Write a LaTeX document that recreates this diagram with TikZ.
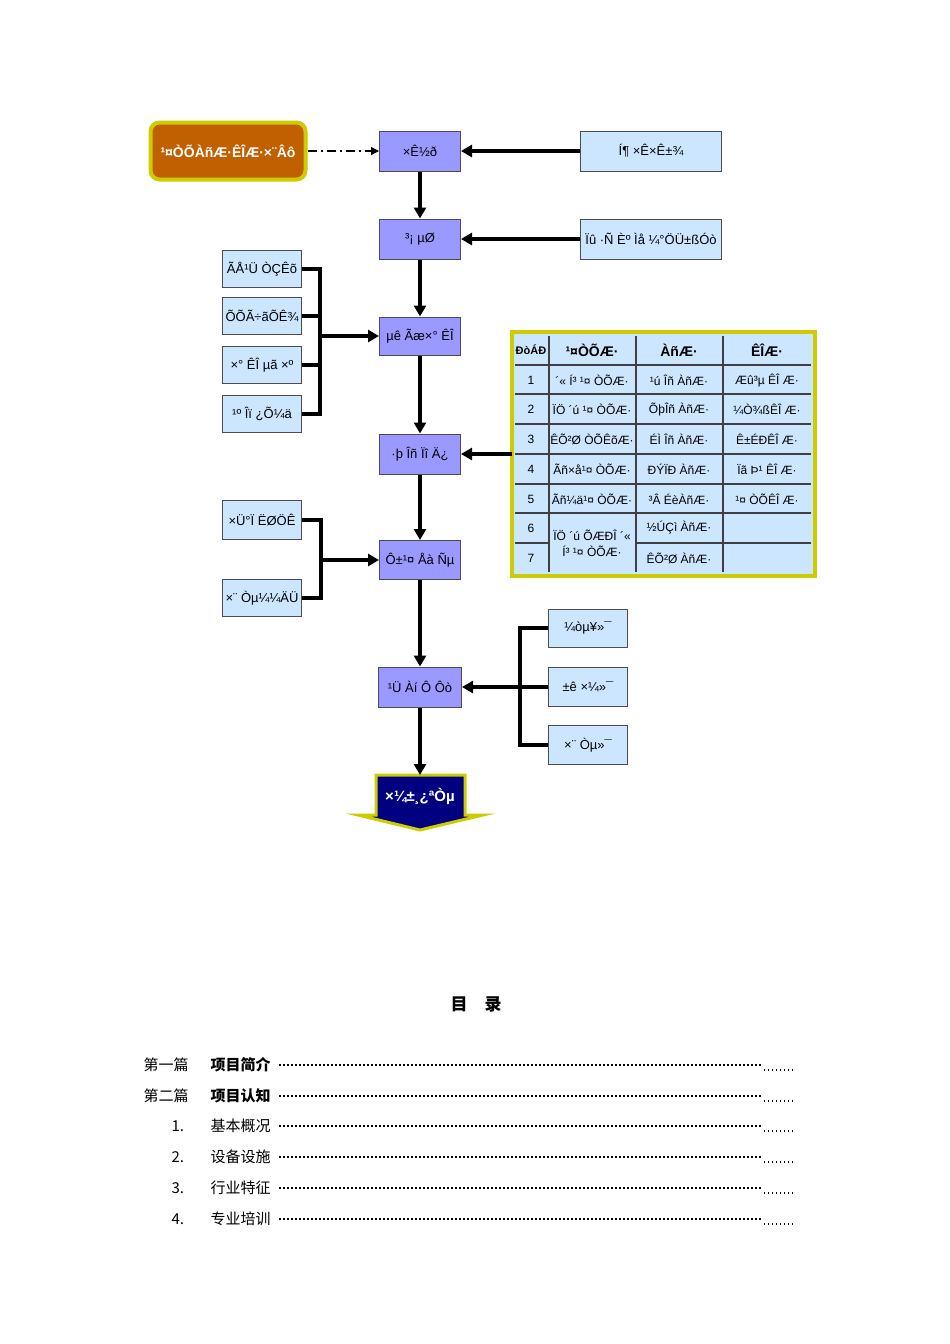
\documentclass[tikz,border=0pt]{standalone}
\usepackage{fontspec}
\setmainfont{Liberation Sans}
\newfontfamily\cjk{Noto Sans CJK SC}
\usetikzlibrary{arrows.meta,calc}
\definecolor{mainv}{RGB}{153,153,255}
\definecolor{lightb}{RGB}{204,230,255}
\definecolor{orng}{RGB}{192,96,0}
\definecolor{ylw}{RGB}{204,204,0}
\definecolor{navy}{RGB}{0,0,128}
\begin{document}
\begin{tikzpicture}[x=1pt,y=-1pt,
  mainb/.style={draw=black!70,line width=1pt,fill=mainv,minimum width=81pt,minimum height=40pt,inner sep=1pt,font=\fontsize{13}{14}\selectfont},
  sideb/.style={draw=black!70,line width=1pt,fill=lightb,minimum width=79pt,minimum height=37pt,inner sep=1pt,font=\fontsize{13}{14}\selectfont},
  conn/.style={line width=3.5pt,-{Triangle[length=11pt,width=12pt]}},
  line/.style={line width=3.5pt},
  cell/.style={font=\fontsize{12}{13}\selectfont},
  toc/.style={anchor=west,font=\cjk\fontsize{15}{17}\selectfont}]
\useasboundingbox (0,0) rectangle (950,1344);
% start node
\node[draw=ylw,line width=4pt,fill=orng,rounded corners=9pt,minimum width=155pt,minimum height=57pt,text=white,font=\bfseries\fontsize{14}{15}\selectfont] (start) at (228,151) {¹¤ÒÕÀñÆ·ÊÎÆ·×¨Âô};
\node[mainb] (m1) at (420,151) {×Ê½ð};
\node[mainb] (m2) at (420,239) {³¡ µØ};
\node[mainb,minimum height=38pt] (m3) at (420,336) {µê Ãæ×° ÊÎ};
\node[mainb] (m4) at (420,454) {·þ Îñ Ïî Ä¿};
\node[mainb,minimum height=39pt] (m5) at (420,560) {Ô±¹¤ Åà Ñµ};
\node[mainb,minimum width=83pt] (m6) at (420,687) {¹Ü Àí Ô Ôò};
\node[sideb,minimum width=141pt,minimum height=40pt] (r1) at (651,151) {Í¶ ×Ê×Ê±¾};
\node[sideb,minimum width=141pt,minimum height=40pt] (r2) at (651,239) {Ïû ·Ñ Èº Ìå ¼°ÖÜ±ßÓò};
\node[sideb] (l1) at (262,269) {ÃÅ¹Ü ÒÇÊõ};
\node[sideb] (l2) at (262,316) {ÕÕÃ÷ãÕÊ¾};
\node[sideb] (l3) at (262,365) {×° ÊÎ µã ×º};
\node[sideb] (l4) at (262,414) {¹º Îï ¿Õ¼ä};
\node[sideb,minimum height=39pt] (l5) at (262,520) {×Ü°Ï ËØÖÊ};
\node[sideb] (l6) at (262,598) {×¨ Òµ¼¼ÄÜ};
\node[sideb,minimum height=38pt] (s1) at (588,628) {¼òµ¥»¯};
\node[sideb,minimum height=39pt] (s2) at (588,687) {±ê ×¼»¯};
\node[sideb,minimum height=39pt] (s3) at (588,745) {×¨ Òµ»¯};
% end arrow shape
\draw[draw=ylw,line width=3pt,fill=navy] (376,775) -- (465,775) -- (465,815) -- (483,815) -- (420,830) -- (358,815) -- (376,815) -- cycle;
\node[text=white,font=\bfseries\fontsize{15}{16}\selectfont] (end) at (420,796) {×¼±¸¿ªÒµ};
\coordinate (endtop) at (420,775);
% table
\fill[lightb] (512,332) rectangle (815,576);
\draw[ylw,line width=4pt] (512,332) rectangle (815,576);
\foreach \x in {549,636,723} \draw[black!75,line width=1.8pt] (\x,336) -- (\x,572);
\foreach \y in {365,394,424,454,484,513} \draw[black!75,line width=1.8pt] (515,\y) -- (811,\y);
\draw[black!75,line width=1.8pt] (515,543) -- (549,543) (636,543) -- (811,543);
\coordinate (tab) at (512,454);
\begin{scope}[cell]
\node[font=\bfseries\fontsize{11}{12}\selectfont] at (531,350) {ÐòÁÐ};
\node[font=\bfseries\fontsize{14}{15}\selectfont] at (592,350) {¹¤ÒÕÆ·};
\node[font=\bfseries\fontsize{14}{15}\selectfont] at (679,350) {ÀñÆ·};
\node[font=\bfseries\fontsize{14}{15}\selectfont] at (767,350) {ÊÎÆ·};
\foreach \n/\y in {1/380,2/409,3/439,4/469,5/499,6/528,7/558} \node at (531,\y) {\n};
\node at (592,380) {´« Í³ ¹¤ ÒÕÆ·};
\node at (592,409) {ÏÖ ´ú ¹¤ ÒÕÆ·};
\node at (592,439) {ÊÕ²Ø ÒÕÊõÆ·};
\node at (592,469) {Ãñ×å¹¤ ÒÕÆ·};
\node at (592,499) {Ãñ¼ä¹¤ ÒÕÆ·};
\node[align=center] at (592,543) {ÏÖ ´ú ÕÆÐÎ ´«\\[3pt]Í³ ¹¤ ÒÕÆ·};
\node at (679,380) {¹ú Îñ ÀñÆ·};
\node at (679,409) {ÕþÎñ ÀñÆ·};
\node at (679,439) {ÉÌ Îñ ÀñÆ·};
\node at (679,469) {ÐÝÏÐ ÀñÆ·};
\node at (679,499) {³Â ÉèÀñÆ·};
\node at (679,528) {½ÚÇì ÀñÆ·};
\node at (679,558) {ÊÕ²Ø ÀñÆ·};
\node at (767,380) {Æû³µ ÊÎ Æ·};
\node at (767,409) {¼Ò¾ßÊÎ Æ·};
\node at (767,439) {Ê±ÉÐÊÎ Æ·};
\node at (767,469) {Ïã Þ¹ ÊÎ Æ·};
\node at (767,499) {¹¤ ÒÕÊÎ Æ·};
\end{scope}
% connectors
\draw[line width=1.2pt,dash pattern=on 9pt off 4pt on 2pt off 4pt,-{Triangle[length=8pt,width=8pt]}] (start) -- (m1);
\draw[conn] (r1) -- (m1);
\draw[conn] (r2) -- (m2);
\draw[conn] (m1) -- (m2);
\draw[conn] (m2) -- (m3);
\draw[conn] (m3) -- (m4);
\draw[conn] (m4) -- (m5);
\draw[conn] (m5) -- (m6);
\draw[conn] (m6) -- (endtop);
\draw[conn] (tab) -- (m4);
\draw[line] (l1.east) -| (320,414) -- (l4.east);
\draw[line] (l2.east) -- (320,316) (l3.east) -- (320,365);
\draw[conn] (320,336) -- (m3);
\draw[line] (l5.east) -| (321,598) -- (l6.east);
\draw[conn] (321,560) -- (m5);
\draw[line] (s1.west) -| (520,745) -- (s3.west);
\draw[conn] (s2) -- (m6);
% TOC
\node[font=\cjk\bfseries\fontsize{17}{19}\selectfont] (title) at (476,1004) {目\quad 录};
\foreach \y/\a/\b in {1065/第一篇/项目简介,1096/第二篇/项目认知} {
  \node[toc] at (140,\y) {\a};
  \node[toc,font=\cjk\bfseries\fontsize{15}{17}\selectfont] at (207,\y) {\b};
}
\foreach \y/\a/\b in {1126/1./基本概况,1157/2./设备设施,1188/3./行业特征,1219/4./专业培训} {
  \node[toc] at (168,\y) {\a};
  \node[toc] at (207,\y) {\b};
}
\foreach \y in {1065,1096,1126,1157,1188,1219} {
  \draw[line width=1.5pt,dash pattern=on 1.5pt off 2.5pt] (279,\y) -- (762,\y);
  \draw[line width=1.1pt,dash pattern=on 1.1pt off 2.9pt] (764,\y+5) -- (793,\y+5);
}
\end{tikzpicture}
\end{document}
